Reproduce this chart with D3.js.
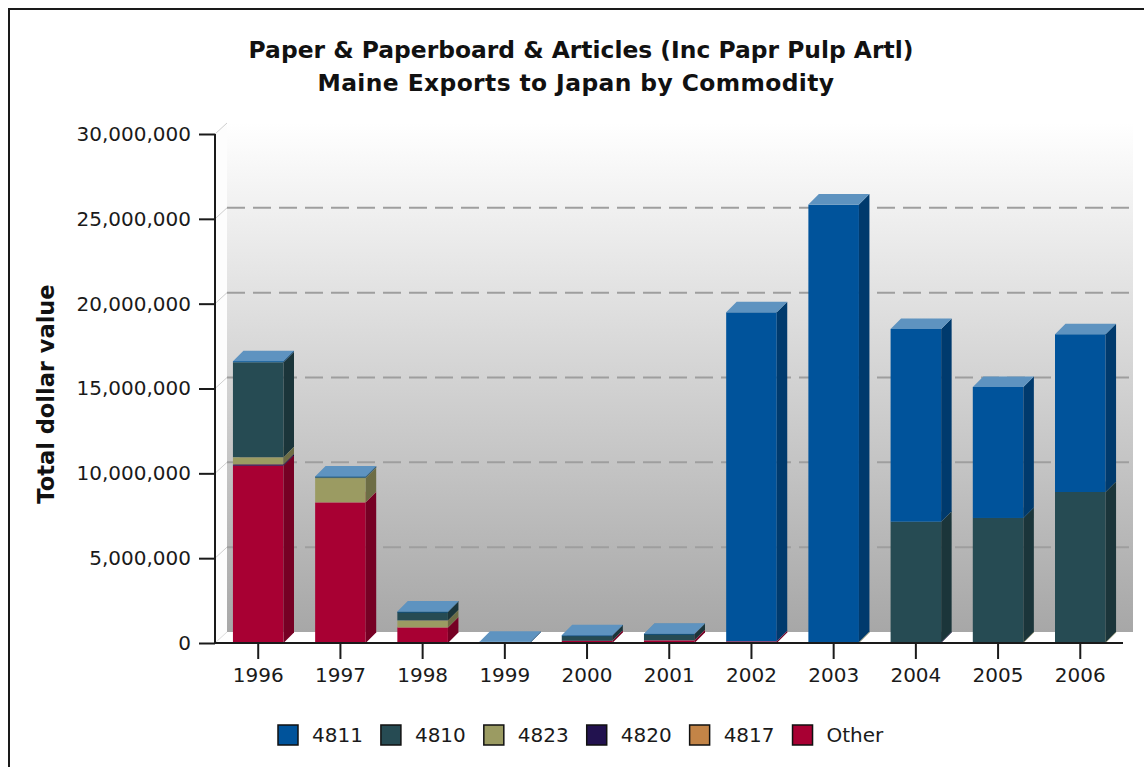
<!DOCTYPE html>
<html>
<head>
<meta charset="utf-8">
<script src="https://cdn.jsdelivr.net/npm/d3@7"></script>
<style>
  html, body { margin: 0; padding: 0; background: #fff; }
  svg { display: block; font-family: "DejaVu Sans", sans-serif; }
</style>
</head>
<body>
<svg id="chart" width="1144" height="767"></svg>
<script>
// ---------------- data ----------------
const categories = ["1996","1997","1998","1999","2000","2001","2002","2003","2004","2005","2006"];
const seriesNames = ["4811","4810","4823","4820","4817","Other"];
const s4811  = [60000, 50000, 20000, 80000, 20000, 20000, 19390000, 25780000, 11360000, 7720000, 9300000];
const s4810  = [5600000, 50000, 500000, 0, 300000, 370000, 0, 0, 7110000, 7320000, 8850000];
const s4823  = [420000, 1430000, 410000, 0, 0, 0, 0, 60000, 0, 50000, 50000];
const s4820  = [80000, 0, 0, 0, 0, 0, 0, 0, 40000, 0, 0];
const s4817  = [0, 0, 0, 0, 0, 0, 0, 0, 0, 0, 0];
const sOther = [10450000, 8290000, 920000, 0, 130000, 160000, 100000, 0, 0, 0, 0];
const yTicks = [0, 5000000, 10000000, 15000000, 20000000, 25000000, 30000000];
const colors = ["#00539B", "#264B53", "#9B9B62", "#22124F", "#C38447", "#A80033"];

const seriesValues = [s4811, s4810, s4823, s4820, s4817, sOther];
// stacking order bottom -> top
const stackOrder = [5, 4, 3, 2, 1, 0];

// ---------------- layout ----------------
const svg = d3.select("#chart");
const X0 = 215, X1 = 1121, Y0 = 643, YT = 134;
const DX = 12, DY = -11;     // wall depth offset
const BDX = 10.5, BDY = -10.5; // bar depth offset

const x = d3.scaleBand().domain(categories).range([216.5, 1122]).paddingInner(0.385).paddingOuter(0.2);
const y = d3.scaleLinear().domain([0, 30000000]).range([Y0, YT]);

// outer border
svg.append("rect").attr("x", 9).attr("y", 9).attr("width", 1150).attr("height", 780)
  .attr("fill", "#fff").attr("stroke", "#1a1a1a").attr("stroke-width", 2);

// gradient
const defs = svg.append("defs");
const g = defs.append("linearGradient").attr("id", "wall").attr("x1", 0).attr("y1", 0).attr("x2", 0).attr("y2", 1);
g.append("stop").attr("offset", 0).attr("stop-color", "#ffffff");
g.append("stop").attr("offset", 1).attr("stop-color", "#a7a7a7");

// walls
const wallTop = y(30000000) + DY, wallBot = Y0 + DY;
svg.append("rect").attr("x", X0 + DX).attr("y", wallTop).attr("width", X1 - X0).attr("height", wallBot - wallTop)
  .attr("fill", "url(#wall)");
svg.append("polygon").attr("points", [[X0, y(30000000)], [X0 + DX, wallTop], [X0 + DX, wallBot], [X0, Y0]].join(" "))
  .attr("fill", "#fdfdfd");
svg.append("polygon").attr("points", [[X0, Y0], [X0 + DX, wallBot], [X1 + DX, wallBot], [X1, Y0]].join(" "))
  .attr("fill", "#ffffff");
svg.append("line").attr("x1", X0).attr("y1", Y0).attr("x2", X0 + DX).attr("y2", wallBot)
  .attr("stroke", "#dddddd").attr("stroke-width", 1);

// gridlines
yTicks.forEach(t => {
  if (t === 0) return;
  const yy = y(t);
  svg.append("line").attr("x1", X0).attr("y1", yy).attr("x2", X0 + DX).attr("y2", yy + DY)
    .attr("stroke", "#cfcfcf").attr("stroke-width", 1);
  if (t < 30000000) {
    svg.append("line").attr("x1", X0 + DX).attr("y1", yy + DY).attr("x2", X1 + DX).attr("y2", yy + DY)
      .attr("stroke", "#9e9e9e").attr("stroke-width", 2).attr("stroke-dasharray", "18,8");
  }
});

// color helpers
function darker(c) { const h = d3.rgb(c); return d3.rgb(h.r * 0.7, h.g * 0.7, h.b * 0.7).toString(); }
function lighter(c) { return d3.interpolateRgb(c, "#ffffff")(0.37); }

// bars
const barG = svg.append("g");
categories.forEach((cat, i) => {
  let base = 0;
  const x0 = x(cat), x1 = x(cat) + x.bandwidth();
  stackOrder.forEach(si => {
    const v = seriesValues[si][i];
    if (!v) return;
    const yb = y(base), yt = y(base + v);
    const c = colors[si];
    // front
    barG.append("rect").attr("x", x0).attr("y", yt).attr("width", x1 - x0).attr("height", Math.max(yb - yt, 0.8))
      .attr("fill", c);
    // side
    barG.append("polygon").attr("points", [[x1, yb], [x1 + BDX, yb + BDY], [x1 + BDX, yt + BDY], [x1, yt]].join(" "))
      .attr("fill", darker(c));
    // top
    barG.append("polygon").attr("points", [[x0, yt], [x0 + BDX, yt + BDY], [x1 + BDX, yt + BDY], [x1, yt]].join(" "))
      .attr("fill", lighter(c));
    base += v;
  });
});

// axes
const yAxis = d3.axisLeft(y).tickValues(yTicks).tickFormat(d3.format(",")).tickSize(16).tickPadding(8);
const yg = svg.append("g").attr("transform", `translate(${X0},0)`).call(yAxis);
yg.select(".domain").remove();
yg.selectAll(".tick line").attr("stroke", "#1a1a1a").attr("stroke-width", 2);
yg.selectAll(".tick text").attr("font-size", 20).attr("fill", "#1a1a1a").attr("font-family", "DejaVu Sans");
svg.append("line").attr("x1", X0).attr("y1", YT).attr("x2", X0).attr("y2", Y0 + 1)
  .attr("stroke", "#1a1a1a").attr("stroke-width", 2);

const xAxis = d3.axisBottom(x).tickSize(16).tickPadding(9);
const xg = svg.append("g").attr("transform", `translate(0,${Y0})`).call(xAxis);
xg.select(".domain").remove();
xg.selectAll(".tick line").attr("stroke", "#1a1a1a").attr("stroke-width", 2);
xg.selectAll(".tick text").attr("font-size", 20).attr("fill", "#1a1a1a").attr("font-family", "DejaVu Sans");
svg.append("line").attr("x1", X0 - 1).attr("y1", Y0).attr("x2", X1 + 2).attr("y2", Y0)
  .attr("stroke", "#1a1a1a").attr("stroke-width", 2);

// titles
svg.append("text").attr("x", 581).attr("y", 58).attr("text-anchor", "middle")
  .attr("font-size", 23.4).attr("font-weight", "bold").attr("fill", "#111")
  .text("Paper & Paperboard & Articles (Inc Papr Pulp Artl)");
svg.append("text").attr("x", 576).attr("y", 91).attr("text-anchor", "middle")
  .attr("font-size", 23.4).attr("font-weight", "bold").attr("fill", "#111").attr("letter-spacing", 0.4)
  .text("Maine Exports to Japan by Commodity");
svg.append("text").attr("transform", "translate(54,394) rotate(-90)").attr("text-anchor", "middle")
  .attr("font-size", 22.5).attr("font-weight", "bold").attr("fill", "#111")
  .text("Total dollar value");

// legend
const leg = svg.append("g");
let lx = 277;
seriesNames.forEach((name, i) => {
  leg.append("rect").attr("x", lx + 1).attr("y", 725).attr("width", 20).attr("height", 20)
    .attr("fill", colors[i]).attr("stroke", "#111").attr("stroke-width", 1.5);
  const t = leg.append("text").attr("x", lx + 35).attr("y", 742).attr("font-size", 20).attr("fill", "#1a1a1a")
    .text(name);
  const w = t.node().getComputedTextLength();
  lx = lx + 35 + w + 17;
});
</script>
</body>
</html>
